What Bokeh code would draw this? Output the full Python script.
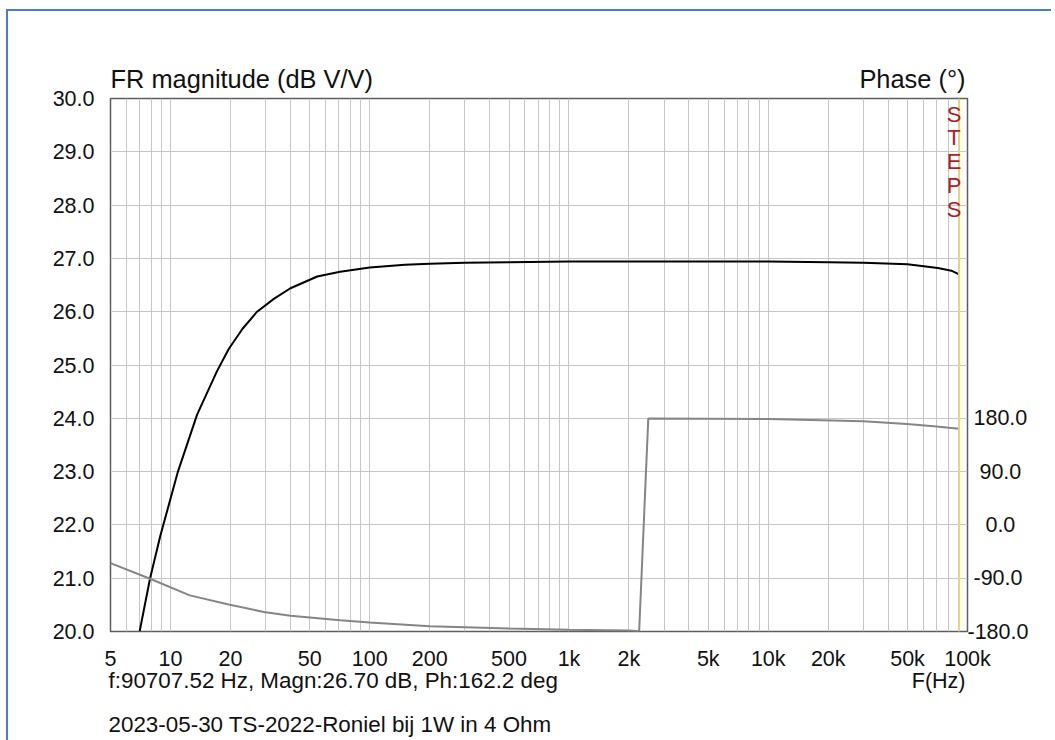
from bokeh.plotting import figure
from bokeh.models import (LinearAxis, Range1d, FixedTicker, Span, Label,
                          PrintfTickFormatter)
from bokeh.embed import file_html
from bokeh.resources import INLINE

FONT = "Liberation Sans"

# ---- data ----
mag_freq = [7.0, 7.9, 8.9, 10.9, 13.6, 17.1, 19.6, 23.0, 27.2, 33.0, 40.0, 54.5,
            71.0, 100.0, 150.0, 200.0, 300.0, 500.0, 1000.0, 2000.0, 5000.0,
            10000.0, 20000.0, 30000.0, 50000.0, 71000.0, 83000.0, 90707.52]
mag_db = [20.0, 21.0, 21.8, 23.0, 24.07, 24.88, 25.3, 25.68, 26.0, 26.24, 26.44, 26.66,
          26.75, 26.83, 26.88, 26.90, 26.92, 26.93, 26.94, 26.94, 26.94,
          26.94, 26.93, 26.92, 26.89, 26.82, 26.77, 26.70]

phase_freq = [5.0, 7.9, 12.5, 19.6, 29.4, 40.0, 71.0, 100.0, 200.0, 500.0, 1000.0,
              2000.0, 2250.0, 2500.0, 5000.0, 10000.0, 14500.0, 30000.0, 49700.0,
              67600.0, 90707.52]
phase_deg = [-64.6, -91.0, -119.0, -134.4, -147.0, -153.5, -161.0, -165.0, -171.0,
             -175.0, -177.0, -178.5, -179.5, 179.8, 179.4, 178.8, 177.7, 174.9,
             170.4, 166.5, 162.2]

x_tick_values = [5, 10, 20, 50, 100, 200, 500, 1000, 2000, 5000, 10000, 20000, 50000, 100000]
x_tick_labels = ["5", "10", "20", "50", "100", "200", "500", "1k", "2k", "5k", "10k",
                 "20k", "50k", "100k"]
x_grid_values = [m * 10 ** e for e in range(0, 5) for m in range(1, 10)
                 if 5 <= m * 10 ** e <= 100000] + [100000]
y_ticks = [20, 21, 22, 23, 24, 25, 26, 27, 28, 29, 30]
phase_ticks = [-180, -90, 0, 90, 180]
phase_tick_labels = ["-180.0", "\u2008-90.0", "\u2007\u20080.0", "\u200790.0", "\u2008180.0"]

cursor_freq = 90707.52
cursor_text = "f:90707.52 Hz, Magn:26.70 dB, Ph:162.2 deg"
title_left = "FR magnitude (dB V/V)"
title_right = "Phase (°)"
x_label = "F(Hz)"
footer = "2023-05-30 TS-2022-Roniel bij 1W in 4 Ohm"
steps_text = "S\nT\nE\nP\nS"

# ---- figure ----
p = figure(x_axis_type="log", x_range=(5, 100000), y_range=(20, 30),
           frame_width=857, frame_height=533,
           min_border_left=102, min_border_right=84,
           min_border_top=87, min_border_bottom=105,
           output_backend="svg", toolbar_location=None,
           background_fill_color="white", border_fill_color="white",
           styles={"border-left": "2px solid #4a7bd0", "border-top": "2px solid #4a7bd0",
                   "margin-left": "6px", "margin-top": "9px"})

p.extra_y_ranges = {"phase": Range1d(-180, 720)}

grid_color = "#c6c6c6"
p.xgrid.ticker = FixedTicker(ticks=x_grid_values)
p.xgrid.grid_line_color = grid_color
p.xgrid.grid_line_width = 1
p.ygrid.ticker = FixedTicker(ticks=y_ticks)
p.ygrid.grid_line_color = grid_color
p.ygrid.grid_line_width = 1

p.outline_line_color = "#5e5e5e"
p.outline_line_width = 1.5

def style_axis(ax, standoff):
    ax.axis_line_color = None
    ax.major_tick_line_color = None
    ax.minor_tick_line_color = None
    ax.major_label_text_font = FONT
    ax.major_label_text_font_size = "21.5px"
    ax.major_label_text_color = "#111111"
    ax.major_label_standoff = standoff

p.xaxis.ticker = FixedTicker(ticks=x_tick_values)
p.xaxis.major_label_overrides = dict(zip(x_tick_values, x_tick_labels))
style_axis(p.xaxis[0], 9)

p.yaxis.ticker = FixedTicker(ticks=y_ticks)
p.yaxis.formatter = PrintfTickFormatter(format="%.1f")
style_axis(p.yaxis[0], 10)

right = LinearAxis(y_range_name="phase", ticker=FixedTicker(ticks=phase_ticks),
                   major_label_overrides=dict(zip(phase_ticks, phase_tick_labels)))
style_axis(right, -6)
p.add_layout(right, "right")

# ---- curves ----
p.line(mag_freq, mag_db, line_color="black", line_width=2)
p.line(phase_freq, phase_deg, y_range_name="phase", line_color="#858585", line_width=2)

p.add_layout(Span(location=cursor_freq, dimension="height", line_color="#e2da70",
                  line_width=2))

# ---- texts ----
def lab(place, **kw):
    d = dict(text_font=FONT, text_color="#111111", text_font_size="22.4px")
    d.update(kw)
    p.add_layout(Label(**d), place)

lab("above", x=5, y=30, text=title_left, text_align="left", text_baseline="middle",
    y_offset=20, text_font_size="25.4px")
lab("above", x=100000, y=30, text=title_right, text_align="right", text_baseline="middle",
    y_offset=20, x_offset=-2, text_font_size="25.4px")
lab("below", x=5, y=20, text=cursor_text, text_align="left", text_baseline="middle",
    y_offset=-49, x_offset=-2)
lab("below", x=100000, y=20, text=x_label, text_align="right", text_baseline="middle",
    y_offset=-49, x_offset=-2, text_font_size="21.5px")
lab("below", x=5, y=20, text=footer, text_align="left", text_baseline="middle",
    y_offset=-93, x_offset=-2)
lab("center", x=cursor_freq, y=30, text=steps_text, text_align="center", text_baseline="top",
    x_offset=-5, y_offset=-3, text_color="#b3201e", text_font_size="22px",
    text_line_height=0.955)

open("out.html", "w").write(file_html(p, INLINE))
